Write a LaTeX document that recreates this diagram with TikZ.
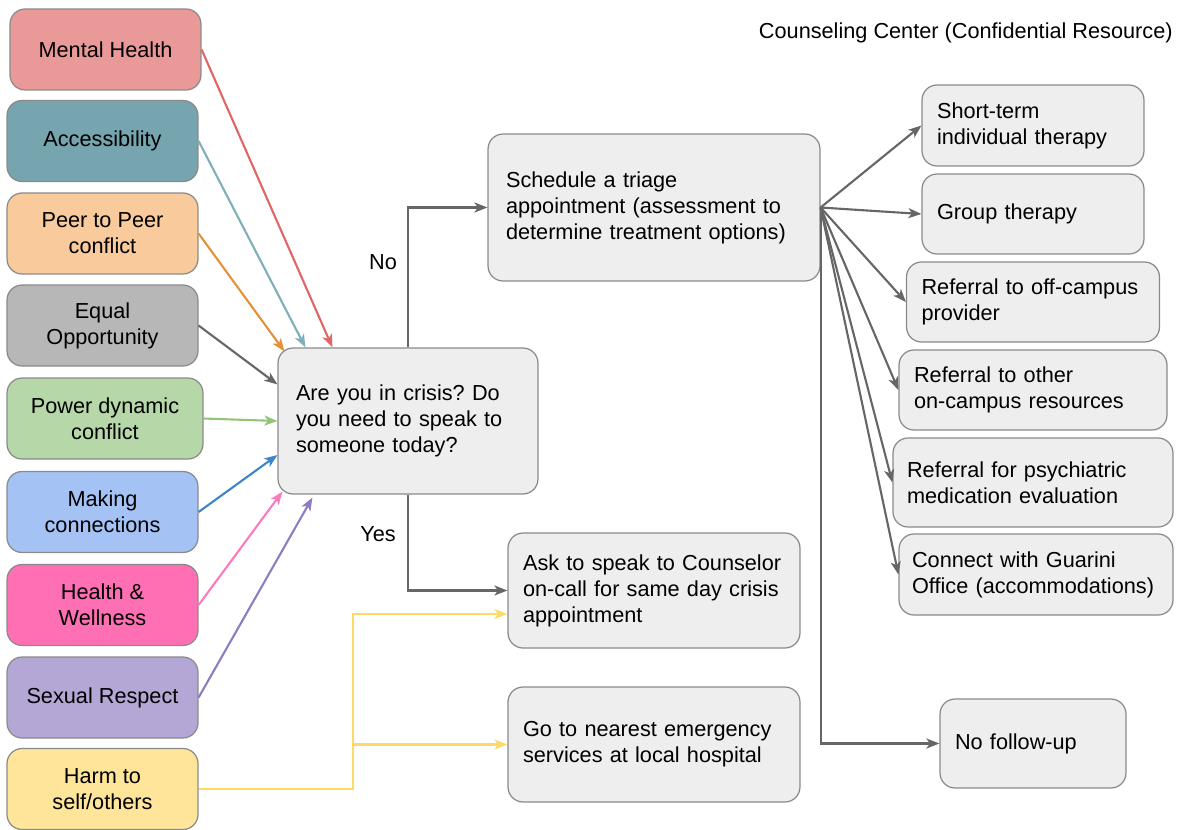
\documentclass[tikz,border=0pt]{standalone}
\usepackage{fontspec}
\setmainfont{Liberation Sans}
\usepackage{tikz}
\usetikzlibrary{arrows.meta}
\frenchspacing

\definecolor{boxline}{HTML}{8A8A8A}
\definecolor{boxfill}{HTML}{EEEEEE}
\definecolor{greyline}{HTML}{666666}
\definecolor{mhfill}{HTML}{EA9999}  \definecolor{mhline}{HTML}{E06666}
\definecolor{acfill}{HTML}{76A5AF}  \definecolor{acline}{HTML}{7FAFB8}
\definecolor{ppfill}{HTML}{F9CB9C}  \definecolor{ppline}{HTML}{E69138}
\definecolor{eqfill}{HTML}{B7B7B7}  \definecolor{eqline}{HTML}{666666}
\definecolor{pdfill}{HTML}{B6D7A8}  \definecolor{pdline}{HTML}{93C47D}
\definecolor{mcfill}{HTML}{A4C2F4}  \definecolor{mcline}{HTML}{3D85C6}
\definecolor{hwfill}{HTML}{FF6FB4}  \definecolor{hwline}{HTML}{FF7ABD}
\definecolor{srfill}{HTML}{B4A7D6}  \definecolor{srline}{HTML}{8E7CC3}
\definecolor{hsfill}{HTML}{FFE599}  \definecolor{hsline}{HTML}{FFD966}

\tikzset{
  topic/.style={draw=boxline, line width=0.7pt, fill=#1, rounded corners=0.3cm,
    minimum width=3.82cm, minimum height=1.62cm, inner sep=0pt, align=center},
  greybox/.style={draw=boxline, line width=0.7pt, fill=boxfill, rounded corners=0.3cm,
    inner ysep=0pt, align=left},
  link/.style={draw=#1, line width=1.2pt, -{Stealth[length=0.26cm,width=0.2cm,inset=0.07cm]}}
}

\begin{document}
\begin{tikzpicture}[x=0.02cm, y=-0.02cm, font=\fontsize{12.35}{14.8}\selectfont]

\useasboundingbox (0,0) rectangle (1183,829);

\node [topic=mhfill] (mh) at (105.5,49.5) {Mental Health};
\node [topic=acfill] (ac) at (102.5,141) {Accessibility};
\node [topic=ppfill] (pp) at (102.5,233.5) {Peer to Peer\\conflict};
\node [topic=eqfill] (eq) at (102.5,325.5) {Equal\\Opportunity};
\node [topic=pdfill, minimum width=3.92cm] (pd) at (105,418.5) {Power dynamic\\conflict};
\node [topic=mcfill] (mc) at (102.5,512) {Making\\connections};
\node [topic=hwfill] (hw) at (102.5,605) {Health \&\\Wellness};
\node [topic=srfill] (sr) at (102.5,697.5) {Sexual Respect};
\node [topic=hsfill] (hs) at (102.5,789) {Harm to\\self/others};

\node [greybox, inner xsep=0.36cm, text width=4.48cm, minimum height=2.92cm] (crisis) at (408,421)
  {Are you in crisis? Do\\you need to speak to\\someone today?};
\node [greybox, inner xsep=0.36cm, text width=5.92cm, minimum height=2.94cm] (triage) at (654,207.5)
  {Schedule a triage\\appointment (assessment to\\determine treatment options)};
\node [greybox, inner xsep=0.3cm, text width=5.24cm, minimum height=2.3cm] (ask) at (654,590.5)
  {Ask to speak to Counselor\\on-call for same day crisis\\appointment};
\node [greybox, inner xsep=0.3cm, text width=5.24cm, minimum height=2.3cm] (er) at (654,744.5)
  {Go to nearest emergency\\services at local hospital};

\node [greybox, inner xsep=0.3cm, text width=3.84cm, minimum height=1.62cm] (short) at (1033,125.5)
  {Short-term\\individual therapy};
\node [greybox, inner xsep=0.3cm, text width=3.84cm, minimum height=1.6cm] (group) at (1033,214)
  {Group therapy};
\node [greybox, inner xsep=0.3cm, text width=4.46cm, minimum height=1.6cm] (offc) at (1033,302)
  {Referral to off-campus\\provider};
\node [greybox, inner xsep=0.3cm, text width=4.76cm, minimum height=1.6cm] (onc) at (1033,390)
  {Referral to other\\on-campus resources};
\node [greybox, inner xsep=0.28cm, text width=5.04cm, minimum height=1.78cm] (psych) at (1033,482.5)
  {Referral for psychiatric\\medication evaluation};
\node [greybox, inner xsep=0.26cm, text width=4.96cm, minimum height=1.62cm] (guar) at (1036,574.5)
  {Connect with Guarini\\Office (accommodations)};
\node [greybox, inner xsep=0.3cm, text width=3.12cm, minimum height=1.78cm] (nofu) at (1033,743.5)
  {No follow-up};

\node [anchor=east, inner sep=0pt] (title) at (1173,33) {Counseling Center (Confidential Resource)};
\node (no) at (383,262) {No};
\node (yes) at (378,534) {Yes};

\draw [link=mhline] (mh.east) -- ([xshift=1.1cm]crisis.north west);
\draw [link=acline] (ac.east) -- ([xshift=0.56cm]crisis.north west);
\draw [link=ppline] (pp.east) -- ([xshift=0.14cm,yshift=-0.08cm]crisis.north west);
\draw [link=eqline] (eq.east) -- ([yshift=-0.74cm]crisis.north west);
\draw [link=pdline] (pd.east) -- (crisis.west);
\draw [link=mcline] (mc.east) -- ([yshift=-0.68cm]crisis.west);
\draw [link=hwline] (hw.east) -- ([xshift=0.1cm,yshift=0.06cm]crisis.south west);
\draw [link=srline] (sr.east) -- ([xshift=0.7cm,yshift=-0.06cm]crisis.south west);

\coordinate (split) at (353,744.5);
\draw [link=hsline] (hs.east) -| (split) |- ([yshift=-0.47cm]ask.west);
\draw [link=hsline] (split) -- (er.west);

\draw [link=greyline] (crisis.north) |- (triage.west);
\draw [link=greyline] (crisis.south) |- (ask.west);

\foreach \t in {short,group,offc,onc,psych,guar}
    \draw [link=greyline] (triage.east) -- (\t.west);
\draw [link=greyline] (triage.east) |- (nofu.west);

\end{tikzpicture}
\end{document}
